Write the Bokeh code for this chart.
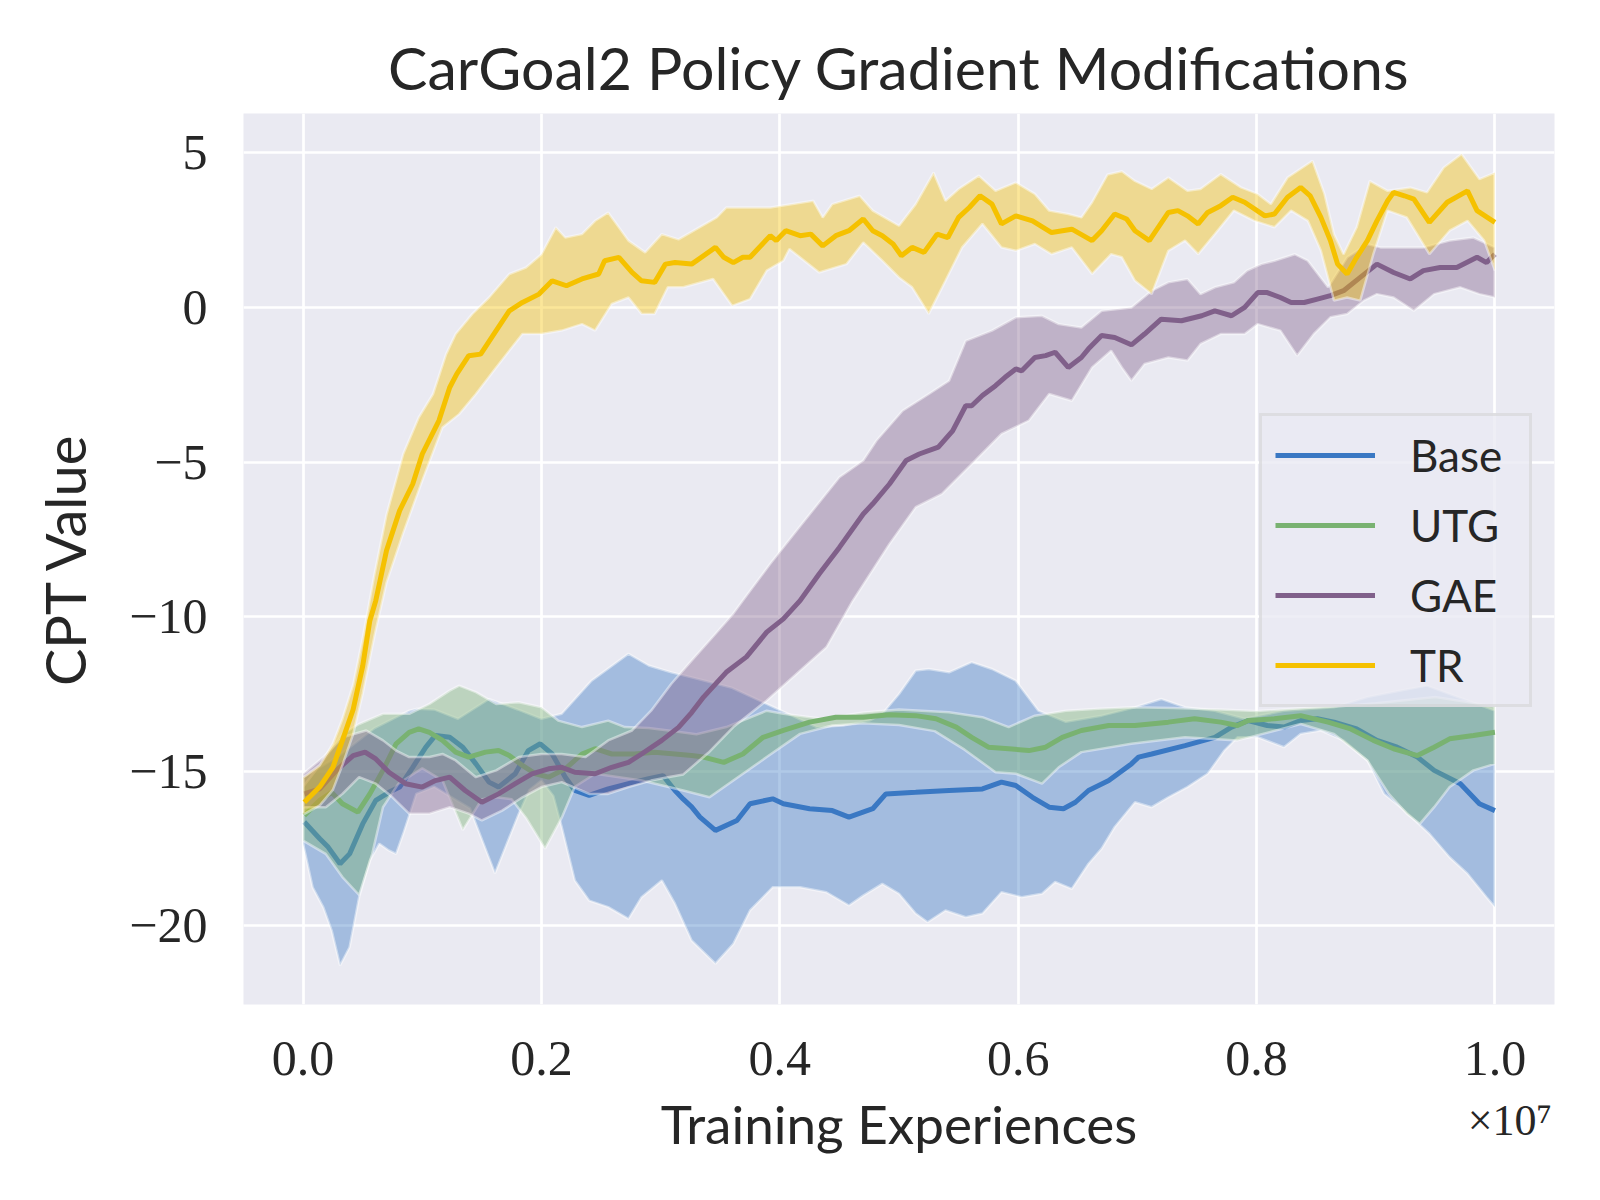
from bokeh.plotting import figure
from bokeh.models import Range1d, FixedTicker, Legend, LegendItem, LinearAxis
from bokeh.embed import file_html
from bokeh.resources import INLINE

# ---------------- data (x in units of 1e7 training experiences) ----------------
base_x = [0.001, 0.014, 0.021, 0.031, 0.039, 0.050, 0.061, 0.072, 0.081, 0.092, 0.103, 0.111, 0.123, 0.134,
          0.145, 0.156, 0.164, 0.178, 0.189, 0.199, 0.209, 0.220, 0.228, 0.240, 0.256, 0.273, 0.290, 0.302,
          0.312, 0.319, 0.326, 0.333, 0.346, 0.364, 0.375, 0.394, 0.403, 0.425, 0.444, 0.458, 0.478, 0.489,
          0.514, 0.542, 0.570, 0.586, 0.598, 0.612, 0.626, 0.638, 0.648, 0.659, 0.676, 0.695, 0.701, 0.712,
          0.740, 0.765, 0.779, 0.793, 0.809, 0.823, 0.837, 0.851, 0.865, 0.884, 0.901, 0.918, 0.935, 0.949,
          0.971, 0.987, 1.000]
base_y = [-16.64, -17.18, -17.45, -17.99, -17.67, -16.70, -15.94, -15.68, -15.51, -14.87, -14.22, -13.84, -13.90, -14.22,
          -14.76, -15.35, -15.51, -15.08, -14.33, -14.11, -14.44, -15.19, -15.62, -15.78, -15.57, -15.40, -15.24, -15.14,
          -15.62, -15.90, -16.15, -16.48, -16.91, -16.59, -16.05, -15.89, -16.05, -16.21, -16.27, -16.48, -16.21, -15.73,
          -15.68, -15.62, -15.57, -15.35, -15.46, -15.84, -16.16, -16.21, -16.00, -15.62, -15.30, -14.76, -14.54, -14.44,
          -14.17, -13.90, -13.57, -13.36, -13.52, -13.57, -13.36, -13.30, -13.41, -13.63, -14.00, -14.22, -14.54, -14.97,
          -15.40, -16.05, -16.27]
base_up_x = [0.000, 0.030, 0.060, 0.089, 0.095, 0.110, 0.130, 0.156, 0.180, 0.200, 0.217, 0.242, 0.273, 0.290,
             0.309, 0.330, 0.360, 0.389, 0.431, 0.453, 0.475, 0.486, 0.500, 0.514, 0.525, 0.542, 0.561, 0.578,
             0.598, 0.617, 0.640, 0.670, 0.698, 0.720, 0.740, 0.765, 0.790, 0.823, 0.865, 0.893, 0.921, 0.943,
             0.977, 1.000]
base_up_y = [-15.20, -14.50, -13.60, -13.04, -12.98, -13.00, -13.30, -12.66, -13.00, -13.30, -13.14, -12.07, -11.20, -11.58,
             -11.80, -12.00, -12.30, -12.82, -13.57, -13.52, -13.36, -13.14, -12.50, -11.74, -11.69, -11.80, -11.47, -11.69,
             -12.07, -13.04, -13.40, -13.20, -12.93, -12.66, -12.93, -13.04, -13.30, -13.04, -12.93, -12.60, -12.39, -12.23,
             -12.71, -13.04]
base_lo_x = [0.000, 0.008, 0.017, 0.024, 0.031, 0.039, 0.047, 0.056, 0.064, 0.072, 0.078, 0.084, 0.095, 0.110,
             0.140, 0.161, 0.181, 0.190, 0.200, 0.210, 0.217, 0.228, 0.240, 0.256, 0.273, 0.284, 0.301, 0.312,
             0.326, 0.346, 0.361, 0.375, 0.394, 0.417, 0.439, 0.458, 0.470, 0.486, 0.500, 0.514, 0.524, 0.539,
             0.556, 0.570, 0.586, 0.603, 0.620, 0.631, 0.645, 0.659, 0.670, 0.681, 0.698, 0.712, 0.726, 0.742,
             0.759, 0.773, 0.784, 0.801, 0.823, 0.837, 0.854, 0.873, 0.893, 0.907, 0.921, 0.945, 0.962, 0.977,
             0.993, 1.000]
base_lo_y = [-17.34, -18.75, -19.40, -20.15, -21.28, -20.69, -19.07, -17.88, -17.34, -17.56, -17.67, -17.02, -15.73, -15.50,
             -16.20, -18.30, -16.37, -15.60, -15.30, -15.80, -16.80, -18.53, -19.18, -19.39, -19.77, -19.07, -18.53, -19.28,
             -20.47, -21.22, -20.58, -19.50, -18.75, -18.75, -18.91, -19.34, -19.02, -18.64, -18.96, -19.60, -19.88, -19.50,
             -19.72, -19.60, -18.91, -19.07, -18.96, -18.58, -18.80, -17.99, -17.50, -16.80, -16.00, -16.16, -15.84, -15.51,
             -15.08, -14.33, -13.90, -13.90, -14.22, -13.79, -13.68, -14.00, -14.65, -15.73, -16.16, -17.02, -17.78, -18.31,
             -19.07, -19.39]

utg_x = [0.001, 0.014, 0.024, 0.033, 0.046, 0.056, 0.067, 0.078, 0.089, 0.097, 0.106, 0.117, 0.128, 0.139,
         0.153, 0.164, 0.173, 0.184, 0.195, 0.206, 0.220, 0.234, 0.245, 0.259, 0.278, 0.295, 0.312, 0.326,
         0.336, 0.353, 0.369, 0.386, 0.403, 0.425, 0.447, 0.470, 0.492, 0.514, 0.531, 0.548, 0.561, 0.575,
         0.592, 0.609, 0.623, 0.637, 0.653, 0.676, 0.698, 0.726, 0.748, 0.770, 0.784, 0.793, 0.815, 0.837,
         0.860, 0.879, 0.898, 0.915, 0.935, 0.949, 0.962, 0.982, 1.000]
utg_y = [-16.43, -15.94, -15.68, -16.05, -16.32, -15.73, -14.97, -14.11, -13.74, -13.63, -13.74, -14.00, -14.38, -14.54,
         -14.38, -14.33, -14.49, -14.81, -15.08, -15.19, -14.92, -14.44, -14.27, -14.44, -14.44, -14.38, -14.44, -14.49,
         -14.54, -14.71, -14.44, -13.90, -13.68, -13.41, -13.25, -13.25, -13.17, -13.20, -13.30, -13.57, -13.90, -14.22,
         -14.27, -14.33, -14.22, -13.90, -13.68, -13.52, -13.52, -13.41, -13.30, -13.41, -13.52, -13.36, -13.30, -13.20,
         -13.41, -13.63, -14.00, -14.27, -14.49, -14.22, -13.95, -13.84, -13.74]
utg_up_x = [0.000, 0.020, 0.033, 0.047, 0.067, 0.089, 0.106, 0.123, 0.131, 0.145, 0.162, 0.181, 0.200, 0.214,
            0.234, 0.256, 0.270, 0.290, 0.310, 0.330, 0.355, 0.389, 0.403, 0.436, 0.470, 0.500, 0.542, 0.570,
            0.592, 0.614, 0.640, 0.667, 0.695, 0.730, 0.770, 0.800, 0.840, 0.870, 0.900, 0.950, 1.000]
utg_up_y = [-15.50, -14.50, -13.79, -13.47, -13.14, -13.14, -12.82, -12.39, -12.23, -12.44, -12.82, -12.77, -12.93, -13.36,
            -13.57, -13.36, -13.57, -13.60, -13.70, -13.80, -13.57, -13.04, -13.14, -13.30, -13.10, -13.00, -13.09, -13.25,
            -13.57, -13.20, -13.04, -12.98, -12.93, -12.95, -13.00, -13.05, -12.95, -12.90, -12.80, -12.60, -12.90]
utg_lo_x = [0.000, 0.019, 0.033, 0.047, 0.058, 0.067, 0.080, 0.100, 0.117, 0.134, 0.150, 0.162, 0.175, 0.187,
            0.203, 0.217, 0.228, 0.245, 0.284, 0.319, 0.341, 0.361, 0.389, 0.417, 0.444, 0.470, 0.500, 0.530,
            0.555, 0.581, 0.598, 0.620, 0.634, 0.653, 0.695, 0.740, 0.784, 0.837, 0.865, 0.893, 0.911, 0.926,
            0.937, 0.949, 0.962, 0.982, 1.000]
utg_lo_y = [-17.24, -17.67, -18.42, -19.00, -17.67, -16.16, -15.40, -14.90, -15.30, -16.90, -15.90, -15.84, -15.90, -16.50,
            -17.50, -16.50, -15.50, -15.08, -15.30, -15.62, -15.84, -15.30, -14.54, -13.79, -13.52, -13.45, -13.50, -13.70,
            -14.30, -15.03, -15.08, -15.40, -14.87, -14.38, -14.11, -13.90, -14.00, -13.47, -13.79, -14.65, -15.73, -16.37,
            -16.70, -16.16, -15.51, -14.97, -14.76]

gae_x = [0.001, 0.014, 0.028, 0.042, 0.052, 0.061, 0.072, 0.086, 0.100, 0.111, 0.123, 0.136, 0.150, 0.164,
         0.178, 0.192, 0.206, 0.217, 0.228, 0.245, 0.259, 0.273, 0.284, 0.301, 0.315, 0.326, 0.336, 0.355,
         0.372, 0.389, 0.403, 0.417, 0.433, 0.450, 0.470, 0.478, 0.492, 0.506, 0.517, 0.533, 0.545, 0.556,
         0.561, 0.570, 0.581, 0.589, 0.598, 0.603, 0.614, 0.623, 0.631, 0.642, 0.653, 0.659, 0.670, 0.681,
         0.695, 0.706, 0.720, 0.737, 0.754, 0.765, 0.779, 0.790, 0.801, 0.809, 0.820, 0.829, 0.840, 0.851,
         0.862, 0.873, 0.887, 0.901, 0.915, 0.929, 0.940, 0.954, 0.968, 0.985, 0.993, 1.000]
gae_y = [-15.73, -15.57, -14.97, -14.49, -14.38, -14.60, -15.03, -15.40, -15.51, -15.30, -15.19, -15.62, -16.00, -15.73,
         -15.40, -15.08, -14.92, -14.87, -15.03, -15.08, -14.87, -14.71, -14.44, -14.00, -13.58, -13.10, -12.60, -11.80,
         -11.30, -10.50, -10.07, -9.48, -8.62, -7.76, -6.68, -6.35, -5.71, -4.95, -4.74, -4.52, -3.99, -3.18,
         -3.18, -2.85, -2.53, -2.26, -1.99, -2.05, -1.62, -1.56, -1.45, -1.94, -1.62, -1.34, -0.91, -0.97,
         -1.21, -0.86, -0.38, -0.43, -0.27, -0.11, -0.27, 0.00, 0.48, 0.48, 0.32, 0.16, 0.16, 0.27,
         0.38, 0.54, 0.97, 1.40, 1.13, 0.92, 1.19, 1.29, 1.29, 1.62, 1.45, 1.72]
gae_up_x = [0.000, 0.017, 0.033, 0.053, 0.067, 0.078, 0.089, 0.106, 0.117, 0.128, 0.145, 0.162, 0.181, 0.200,
            0.217, 0.237, 0.256, 0.276, 0.292, 0.309, 0.326, 0.345, 0.361, 0.369, 0.392, 0.414, 0.450, 0.470,
            0.481, 0.503, 0.525, 0.542, 0.556, 0.578, 0.598, 0.620, 0.634, 0.653, 0.670, 0.695, 0.712, 0.726,
            0.742, 0.753, 0.765, 0.781, 0.792, 0.804, 0.815, 0.832, 0.843, 0.860, 0.876, 0.893, 0.904, 0.921,
            0.940, 0.962, 0.982, 1.000]
gae_up_y = [-15.08, -14.54, -13.90, -13.68, -14.00, -14.33, -14.54, -14.54, -14.44, -14.65, -15.19, -14.97, -14.54, -14.44,
            -14.44, -14.54, -14.00, -13.68, -13.04, -12.17, -11.42, -10.60, -9.90, -9.48, -8.29, -7.22, -5.49, -4.95,
            -4.31, -3.34, -2.80, -2.37, -1.08, -0.75, -0.32, -0.27, -0.54, -0.65, -0.11, 0.00, 0.54, 0.81,
            0.92, 0.43, 0.65, 0.81, 1.19, 1.40, 1.51, 1.72, 1.51, 0.65, 1.62, 2.05, 1.94, 1.94,
            1.94, 2.16, 2.26, 1.94]
gae_lo_x = [0.000, 0.019, 0.033, 0.047, 0.061, 0.075, 0.089, 0.106, 0.123, 0.139, 0.150, 0.167, 0.184, 0.200,
            0.217, 0.240, 0.256, 0.273, 0.292, 0.306, 0.319, 0.340, 0.361, 0.389, 0.439, 0.461, 0.492, 0.514,
            0.536, 0.564, 0.586, 0.609, 0.626, 0.645, 0.662, 0.678, 0.687, 0.695, 0.706, 0.726, 0.742, 0.753,
            0.770, 0.790, 0.801, 0.820, 0.834, 0.848, 0.862, 0.876, 0.890, 0.901, 0.915, 0.932, 0.949, 0.971,
            0.987, 1.000]
gae_lo_y = [-16.16, -16.16, -15.73, -15.19, -15.40, -15.84, -16.37, -16.37, -16.16, -16.37, -16.59, -16.27, -15.84, -15.51,
            -15.35, -15.73, -15.73, -15.51, -15.30, -15.19, -15.10, -14.40, -13.57, -12.71, -10.99, -9.50, -7.65, -6.46,
            -6.03, -4.95, -4.09, -3.66, -2.80, -3.02, -1.94, -1.40, -1.94, -2.37, -1.83, -1.62, -1.72, -1.18,
            -0.86, -0.86, -0.54, -0.75, -1.56, -0.86, -0.32, -0.21, 0.22, 0.43, 0.32, -0.11, 0.43, 0.65,
            0.43, 0.32]

tr_x = [0.001, 0.014, 0.025, 0.033, 0.042, 0.050, 0.056, 0.061, 0.070, 0.081, 0.092, 0.100, 0.114, 0.123,
        0.129, 0.139, 0.149, 0.162, 0.173, 0.184, 0.198, 0.209, 0.221, 0.234, 0.248, 0.253, 0.265, 0.276,
        0.284, 0.295, 0.304, 0.312, 0.326, 0.346, 0.353, 0.361, 0.369, 0.375, 0.392, 0.397, 0.405, 0.417,
        0.426, 0.436, 0.447, 0.458, 0.470, 0.478, 0.486, 0.495, 0.502, 0.511, 0.521, 0.532, 0.541, 0.550,
        0.559, 0.568, 0.578, 0.586, 0.598, 0.612, 0.628, 0.645, 0.662, 0.670, 0.681, 0.691, 0.698, 0.710,
        0.726, 0.734, 0.742, 0.751, 0.759, 0.770, 0.780, 0.790, 0.807, 0.815, 0.826, 0.837, 0.845, 0.854,
        0.862, 0.868, 0.876, 0.884, 0.893, 0.901, 0.910, 0.915, 0.924, 0.932, 0.945, 0.960, 0.977, 0.985,
        1.000]
tr_y = [-16.00, -15.50, -14.87, -14.00, -13.00, -11.60, -10.13, -9.48, -7.86, -6.57, -5.71, -4.74, -3.66, -2.59,
        -2.15, -1.56, -1.51, -0.75, -0.11, 0.16, 0.43, 0.86, 0.70, 0.92, 1.08, 1.51, 1.62, 1.13,
        0.86, 0.81, 1.40, 1.45, 1.40, 1.94, 1.62, 1.45, 1.62, 1.62, 2.32, 2.16, 2.48, 2.32,
        2.37, 1.99, 2.32, 2.48, 2.86, 2.48, 2.32, 2.05, 1.67, 1.94, 1.78, 2.37, 2.26, 2.91,
        3.23, 3.61, 3.34, 2.70, 2.96, 2.80, 2.42, 2.53, 2.16, 2.48, 3.02, 2.86, 2.48, 2.16,
        3.07, 3.13, 2.96, 2.70, 3.07, 3.29, 3.56, 3.40, 2.96, 3.02, 3.56, 3.88, 3.61, 2.91,
        2.16, 1.40, 1.08, 1.62, 2.16, 2.80, 3.45, 3.72, 3.61, 3.50, 2.75, 3.40, 3.77, 3.13,
        2.75]
tr_up_x = [0.000, 0.014, 0.025, 0.033, 0.042, 0.050, 0.060, 0.070, 0.084, 0.097, 0.109, 0.120, 0.128, 0.142,
           0.156, 0.173, 0.187, 0.200, 0.212, 0.220, 0.234, 0.245, 0.256, 0.273, 0.287, 0.301, 0.315, 0.347,
           0.355, 0.378, 0.392, 0.428, 0.436, 0.444, 0.467, 0.478, 0.500, 0.514, 0.529, 0.539, 0.550, 0.567,
           0.581, 0.598, 0.614, 0.626, 0.642, 0.653, 0.662, 0.675, 0.687, 0.698, 0.712, 0.726, 0.742, 0.753,
           0.770, 0.787, 0.801, 0.812, 0.826, 0.847, 0.857, 0.865, 0.873, 0.884, 0.895, 0.910, 0.929, 0.943,
           0.957, 0.972, 0.987, 1.000]
tr_up_y = [-15.20, -14.80, -14.10, -13.30, -12.20, -10.70, -8.60, -6.70, -4.74, -3.56, -2.80, -1.51, -0.86, -0.21,
           0.32, 1.08, 1.29, 1.72, 2.59, 2.26, 2.37, 2.80, 3.07, 2.16, 1.78, 2.37, 2.20, 2.91,
           3.23, 3.23, 3.23, 3.45, 2.91, 3.34, 3.61, 3.13, 2.64, 3.34, 4.36, 3.45, 3.83, 4.26,
           3.77, 4.04, 3.67, 3.13, 3.02, 2.91, 3.40, 4.30, 4.40, 4.09, 3.83, 4.20, 3.77, 3.83,
           4.31, 3.88, 3.67, 3.34, 4.20, 4.74, 3.67, 2.37, 1.72, 2.59, 4.09, 3.77, 3.88, 3.72,
           4.52, 4.96, 4.15, 4.36]
tr_lo_x = [0.000, 0.014, 0.025, 0.033, 0.042, 0.050, 0.060, 0.070, 0.084, 0.100, 0.117, 0.131, 0.145, 0.162,
           0.184, 0.200, 0.217, 0.234, 0.245, 0.259, 0.273, 0.284, 0.295, 0.306, 0.319, 0.344, 0.360, 0.375,
           0.389, 0.403, 0.408, 0.433, 0.456, 0.470, 0.486, 0.500, 0.511, 0.525, 0.539, 0.553, 0.570, 0.586,
           0.598, 0.614, 0.628, 0.645, 0.662, 0.678, 0.687, 0.698, 0.712, 0.726, 0.740, 0.751, 0.765, 0.781,
           0.798, 0.815, 0.829, 0.843, 0.854, 0.865, 0.876, 0.887, 0.898, 0.910, 0.926, 0.945, 0.962, 0.977,
           0.991, 1.000]
tr_lo_y = [-16.40, -16.10, -15.60, -14.80, -13.80, -12.50, -10.60, -8.90, -7.30, -5.60, -3.88, -3.45, -2.80, -1.94,
           -0.86, -0.86, -0.75, -0.54, -0.75, 0.11, 0.32, -0.21, -0.21, 0.65, 0.65, 0.92, 0.05, 0.27,
           1.19, 1.51, 1.89, 1.13, 1.40, 2.10, 1.51, 0.97, 0.65, -0.21, 0.86, 1.94, 2.70, 1.94,
           1.83, 2.05, 1.72, 1.94, 1.08, 1.72, 1.62, 0.86, 0.43, 1.83, 2.16, 1.72, 2.37, 3.13,
           2.80, 2.59, 3.13, 2.80, 1.83, 0.22, 0.32, 0.22, 1.72, 3.13, 2.91, 1.72, 2.48, 2.80,
           2.16, 1.19]

x_ticks = [0.0, 0.2, 0.4, 0.6, 0.8, 1.0]
x_tick_labels = ["0.0", "0.2", "0.4", "0.6", "0.8", "1.0"]
y_ticks = [-20, -15, -10, -5, 0, 5]
y_tick_labels = ["\u221220", "\u221215", "\u221210", "\u22125", "0", "5"]
offset_tick = 1.0125
offset_text = "\u00d710\u2077"

series = [
    ("Base", base_x, base_y, base_up_x, base_up_y, base_lo_x, base_lo_y, "#3a78c3"),
    ("UTG", utg_x, utg_y, utg_up_x, utg_up_y, utg_lo_x, utg_lo_y, "#79b271"),
    ("GAE", gae_x, gae_y, gae_up_x, gae_up_y, gae_lo_x, gae_lo_y, "#80608a"),
    ("TR", tr_x, tr_y, tr_up_x, tr_up_y, tr_lo_x, tr_lo_y, "#f5c100"),
]

# ---------------- figure ----------------
SANS = "Lato"
SERIF = "Liberation Serif"
TXT = "#262626"

p = figure(frame_width=1311, frame_height=891,
           min_border_left=243, min_border_right=30, min_border_top=113, min_border_bottom=176,
           x_range=Range1d(-0.05, 1.05), y_range=Range1d(-22.54, 6.27),
           output_backend="svg", toolbar_location=None,
           title="CarGoal2 Policy Gradient Modifications")
p.background_fill_color = "#eaeaf2"
p.border_fill_color = "white"
p.outline_line_color = None

p.title.align = "center"
p.title.text_font = SANS
p.title.text_font_size = "59px"
p.title.text_font_style = "normal"
p.title.text_color = TXT
p.title.standoff = 22


def style_axis(ax):
    ax.axis_line_color = None
    ax.major_tick_line_color = None
    ax.minor_tick_line_color = None
    ax.major_tick_out = 0
    ax.major_tick_in = 0
    ax.major_label_text_font = SERIF
    ax.major_label_text_font_size = "50px"
    ax.major_label_text_color = TXT
    ax.axis_label_text_font = SANS
    ax.axis_label_text_font_style = "normal"
    ax.axis_label_text_color = TXT


xax = p.xaxis[0]
yax = p.yaxis[0]
style_axis(xax)
style_axis(yax)

xax.ticker = FixedTicker(ticks=x_ticks)
xax.major_label_overrides = {t: l for t, l in zip(x_ticks, x_tick_labels)}
xax.major_label_standoff = 37
yax.ticker = FixedTicker(ticks=y_ticks)
yax.major_label_overrides = {t: l for t, l in zip(y_ticks, y_tick_labels)}
yax.axis_label = "CPT Value"
yax.axis_label_text_font_size = "56px"
yax.major_label_standoff = 36
yax.axis_label_standoff = 28

# second bottom axis: carries the x10^7 offset text and the axis title on the same row
xax2 = LinearAxis(ticker=FixedTicker(ticks=[offset_tick]))
style_axis(xax2)
xax2.major_label_overrides = {offset_tick: offset_text}
xax2.major_label_text_font_size = "44px"
xax2.major_label_standoff = 18
xax2.axis_label = "Training Experiences"
xax2.axis_label_text_font_size = "53px"
xax2.axis_label_standoff = -56
p.add_layout(xax2, "below")

p.xgrid.ticker = FixedTicker(ticks=x_ticks)
p.ygrid.ticker = FixedTicker(ticks=y_ticks)
for g in (p.xgrid[0], p.ygrid[0]):
    g.grid_line_color = "white"
    g.grid_line_width = 2.7

items = []
for name, mx, my, ux, uy, lx, ly, col in series:
    p.patch(ux + lx[::-1], uy + ly[::-1], fill_color=col, fill_alpha=0.4,
            line_color="white", line_alpha=0.45, line_width=2.5)
    r = p.line(mx, my, line_color=col, line_width=5)
    items.append(LegendItem(label=name, renderers=[r]))

legend = Legend(items=items, location=(1016, 297))
legend.label_text_font = SANS
legend.label_text_font_size = "44px"
legend.label_text_color = TXT
legend.glyph_width = 100
legend.glyph_height = 40
legend.label_height = 40
legend.label_width = 106
legend.label_standoff = 35
legend.spacing = 18
legend.padding = 13
legend.margin = 0
legend.background_fill_color = "#eaeaf2"
legend.background_fill_alpha = 0.8
legend.border_line_color = "#cfcfcf"
legend.border_line_width = 3
p.add_layout(legend, "center")

open("out.html", "w").write(file_html(p, INLINE))
